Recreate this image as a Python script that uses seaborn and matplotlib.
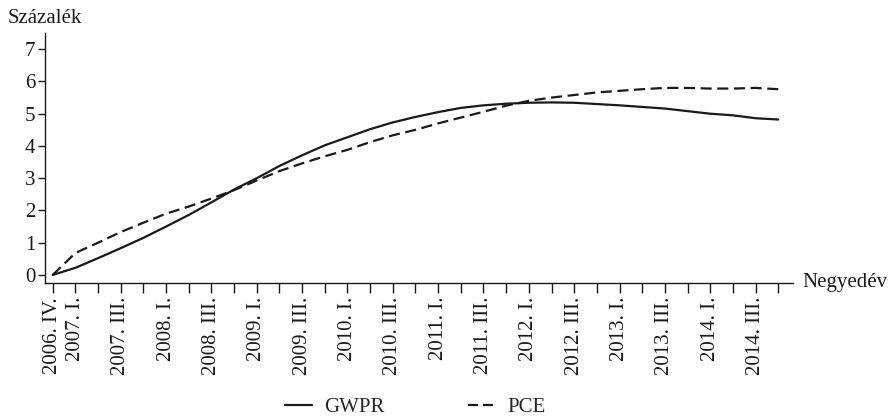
import matplotlib
matplotlib.use("Agg")
import matplotlib.pyplot as plt
import seaborn as sns
import pandas as pd
import numpy as np

# Quarterly periods, 2006 Q4 to 2014 Q4
quarters = [
    "2006. IV.",
    "2007. I.", "2007. II.", "2007. III.", "2007. IV.",
    "2008. I.", "2008. II.", "2008. III.", "2008. IV.",
    "2009. I.", "2009. II.", "2009. III.", "2009. IV.",
    "2010. I.", "2010. II.", "2010. III.", "2010. IV.",
    "2011. I.", "2011. II.", "2011. III.", "2011. IV.",
    "2012. I.", "2012. II.", "2012. III.", "2012. IV.",
    "2013. I.", "2013. II.", "2013. III.", "2013. IV.",
    "2014. I.", "2014. II.", "2014. III.", "2014. IV.",
]
labelled = {"2006. IV.", "2007. I.", "2007. III.", "2008. I.", "2008. III.",
            "2009. I.", "2009. III.", "2010. I.", "2010. III.", "2011. I.",
            "2011. III.", "2012. I.", "2012. III.", "2013. I.", "2013. III.",
            "2014. I.", "2014. III."}

gwpr = [0.00, 0.22, 0.52, 0.83, 1.15, 1.50, 1.86, 2.25, 2.65, 3.00,
        3.38, 3.71, 4.02, 4.27, 4.52, 4.73, 4.90, 5.05, 5.18, 5.26,
        5.31, 5.34, 5.35, 5.34, 5.30, 5.26, 5.21, 5.16, 5.08, 5.00,
        4.95, 4.86, 4.82]
pce = [0.00, 0.68, 1.00, 1.33, 1.62, 1.90, 2.12, 2.37, 2.63, 2.93,
       3.22, 3.46, 3.68, 3.88, 4.12, 4.33, 4.50, 4.70, 4.88, 5.06,
       5.25, 5.40, 5.50, 5.58, 5.66, 5.71, 5.76, 5.80, 5.80, 5.78,
       5.78, 5.80, 5.76]

series_names = ["GWPR", "PCE"]

df = pd.DataFrame({
    "idx": list(range(len(quarters))) * 2,
    "ertek": gwpr + pce,
    "sorozat": ["GWPR"] * len(gwpr) + ["PCE"] * len(pce),
})

sns.set_theme(style="ticks")
plt.rcParams["font.family"] = ["Liberation Serif", "DejaVu Serif"]
plt.rcParams["axes.linewidth"] = 1.0

FS = 15
INK = "#1a1a1a"
DASH = (5.0, 2.5)

fig = plt.figure(figsize=(8.89, 4.19), dpi=100)
ax = fig.add_axes([0.0506, 0.3246, 0.8414, 0.5964])

sns.lineplot(
    data=df, x="idx", y="ertek", style="sorozat", style_order=series_names,
    dashes={"GWPR": "", "PCE": DASH}, color=INK, linewidth=1.6,
    ax=ax, legend=False,
)

ax.set_xlim(-0.34, 32.65)
ax.set_ylim(-0.25, 7.5)
ax.set_yticks(range(0, 8))
ax.set_xticks(range(len(quarters)))
ax.set_xticklabels([q if q in labelled else "" for q in quarters],
                   rotation=90, fontsize=FS)
ax.tick_params(axis="y", labelsize=FS, length=5, width=1.0, direction="out",
               colors=INK, pad=2)
ax.tick_params(axis="x", length=7, width=1.0, direction="out",
               colors=INK, pad=3)
ax.set_xlabel("")
ax.set_ylabel("")
for side in ["top", "right"]:
    ax.spines[side].set_visible(False)
for side in ["left", "bottom"]:
    ax.spines[side].set_color(INK)

fig.text(0.009, 0.955, "Százalék", fontsize=FS, ha="left", va="center",
         color=INK)
fig.text(0.902, 0.3246, "Negyedév", fontsize=FS, ha="left", va="center",
         color=INK)

handles = [
    plt.Line2D([], [], color=INK, lw=1.6, linestyle="-"),
    plt.Line2D([], [], color=INK, lw=1.6, linestyle=(0, (4.5, 2.2))),
]
fig.legend(handles, series_names, loc="center", bbox_to_anchor=(0.467, 0.028),
           ncol=2, frameon=False, fontsize=FS, handlelength=1.3,
           handletextpad=0.6, columnspacing=4.0)

fig.savefig("out.png", dpi=100)
